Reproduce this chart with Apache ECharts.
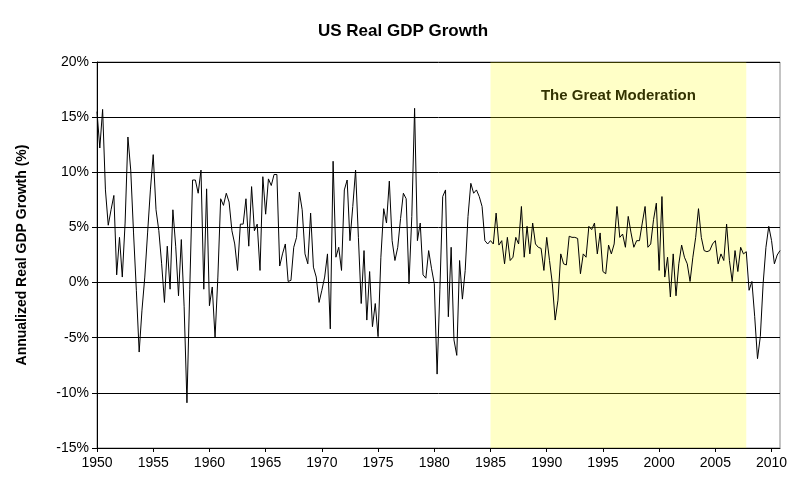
<!DOCTYPE html>
<html><head><meta charset="utf-8">
<script src="https://cdn.jsdelivr.net/npm/echarts@6/dist/echarts.min.js"></script>
<style>html,body{margin:0;padding:0;background:#fff}#c{width:800px;height:500px}</style>
</head><body><div id="c"></div>
<script>
const startYear = 1950;
const endYear = 2010;
const growth = [
15.5,12.2,15.7,8.4, 5.2,6.6,7.9,0.7, 4.1,0.5,5.4,13.2, 10.2,4.5,-0.7,-6.3,
-2.5,0.5,4.5,8.4, 11.6,6.6,4.7,1.7, -1.8,3.3,-0.6,6.6, 3.3,-1.2,3.9,-2.2,
-10.9,-0.6,9.3,9.3, 8.1,10.2,-0.6,8.5, -2.1,-0.4,-5.0,0.5, 7.6,7.0,8.1,7.3,
4.7,3.5,1.1,5.3, 5.3,7.6,3.3,8.7, 4.7,5.3,1.1,9.6, 6.2,9.4,8.8,9.8,
9.8,1.5,2.6,3.5, 0.1,0.2,3.2,4.1, 8.2,6.6,2.6,1.7, 6.3,1.4,0.5,-1.8,
-0.7,0.5,2.6,-4.2, 11.0,2.3,3.2,1.1, 8.4,9.3,3.8,6.9, 10.2,4.1,-1.9,2.9,
-3.4,1.0,-4.0,-1.9, -4.9,2.3,6.7,5.4, 9.2,3.8,2.0,3.2, 5.8,8.1,7.6,-0.1,
6.0,15.8,3.8,5.4, 0.7,0.4,2.9,1.3, -0.1,-8.3,-0.6,7.8, 8.4,-3.1,3.2,-5.2,
-6.6,2.0,-1.5,1.1, 6.0,9.0,8.1,8.4, 7.8,6.9,3.8,3.5, 3.8,3.5,6.3,3.4,
3.8,1.7,4.1,2.0, 2.3,4.1,3.5,6.9, 2.3,5.1,2.6,5.4, 3.5,3.2,3.1,1.1,
4.1,2.0,-0.1,-3.4, -1.6,2.6,1.7,1.6, 4.2,4.1,4.1,4.0, 0.8,2.6,2.3,5.1,
4.8,5.4,2.6,4.5, 1.0,0.8,3.4,2.6, 3.5,6.9,4.1,4.4, 3.2,6.0,4.5,3.2,
3.8,3.8,5.4,6.9, 3.2,3.5,5.7,7.2, 1.1,7.8,0.5,2.3, -1.3,2.6,-1.2,1.7,
3.4,2.3,1.7,0.1, 2.3,4.1,6.7,4.1, 2.9,2.8,2.9,3.5, 3.8,1.7,2.6,2.0,
5.3,2.0,0.1,2.9, 1.0,3.2,2.6,2.8, -0.7,0.1,-3.1,-6.9, -4.9,-0.1,3.2,5.1,
3.8,1.7,2.5,2.9
];
const shadeStart = '1985Q1', shadeEnd = '2007Q4';
const shadeLabel = 'The Great Moderation';
const categories = [];
for (let y = startYear; y <= endYear; y++) for (let q = 1; q <= 4; q++) categories.push(y + 'Q' + q);

const chart = echarts.init(document.getElementById('c'));
chart.setOption({
  animation:false,
  title:{text:'US Real GDP Growth',left:398,textAlign:'center',top:18,
    textStyle:{fontFamily:'Arial, Liberation Sans',fontSize:17,fontWeight:'bold',color:'#000'}},
  grid:{left:97,right:20,top:62,bottom:52,show:true,borderColor:'#888',borderWidth:1,backgroundColor:'transparent'},
  xAxis:{type:'category',data:categories,boundaryGap:false,
    axisLine:{onZero:false,lineStyle:{color:'#000'}},
    axisTick:{show:true,interval:(i)=>i%20===0,lineStyle:{color:'#000'},length:4},
    axisLabel:{interval:(i)=>i%20===0,formatter:(v)=>v.slice(0,4),color:'#000',fontSize:14,fontFamily:'Arial, Liberation Sans',margin:8},
    splitLine:{show:false}},
  yAxis:{type:'value',min:-15,max:20,interval:5,
    name:'Annualized Real GDP Growth (%)',nameLocation:'middle',nameGap:68,nameRotate:90,
    nameTextStyle:{fontFamily:'Arial, Liberation Sans',fontSize:14,fontWeight:'bold',color:'#000'},
    axisLine:{show:true,lineStyle:{color:'#000'}},
    axisTick:{show:true,lineStyle:{color:'#000'}},
    axisLabel:{formatter:'{value}%',color:'#000',fontSize:14,fontFamily:'Arial, Liberation Sans'},
    splitLine:{lineStyle:{color:'#000',width:1}}},
  series:[{type:'line',data:growth,symbol:'none',lineStyle:{color:'#000',width:1},
    markArea:{silent:true,itemStyle:{color:'rgba(255,255,0,0.22)'},
      label:{show:true,position:'insideTop',distance:26,fontSize:15,fontWeight:'bold',fontFamily:'Arial, Liberation Sans',color:'#333300'},
      data:[[{name:shadeLabel,xAxis:shadeStart},{xAxis:shadeEnd}]]}}]
});
</script></body></html>
